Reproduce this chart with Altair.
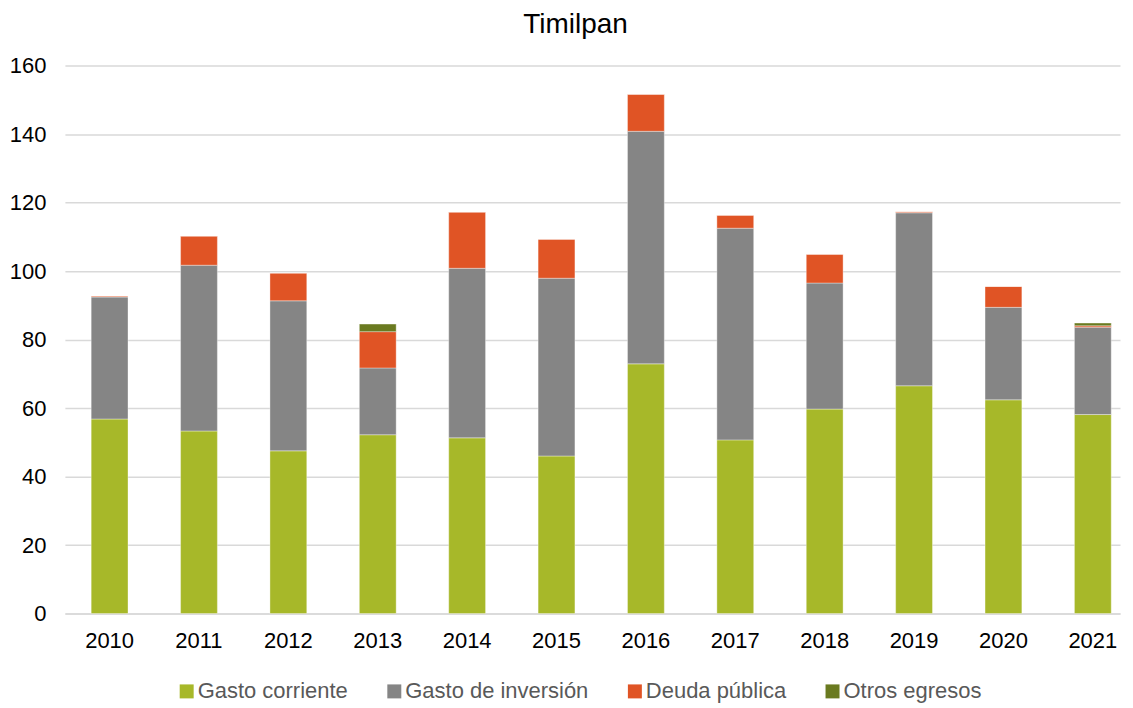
import altair as alt
import pandas as pd

years = ["2010", "2011", "2012", "2013", "2014", "2015", "2016", "2017", "2018", "2019", "2020", "2021"]
series = ["Gasto corriente", "Gasto de inversión", "Deuda pública", "Otros egresos"]
colors = ["#A7B829", "#858585", "#E05425", "#6A7A20"]

gasto_corriente = [56.8, 53.3, 47.5, 52.2, 51.3, 46.0, 72.9, 50.7, 59.7, 66.5, 62.4, 58.1]
gasto_inversion = [35.6, 48.4, 43.8, 19.5, 49.5, 51.9, 67.9, 61.8, 36.8, 50.5, 27.0, 25.5]
deuda_publica = [0.3, 8.5, 8.1, 10.6, 16.4, 11.4, 10.8, 3.8, 8.4, 0.3, 6.1, 0.4]
otros_egresos = [0.0, 0.0, 0.0, 2.2, 0.0, 0.0, 0.0, 0.0, 0.0, 0.0, 0.0, 0.8]

values = [gasto_corriente, gasto_inversion, deuda_publica, otros_egresos]
rows = []
for si, (name, vals) in enumerate(zip(series, values)):
    for y, v in zip(years, vals):
        rows.append({"year": y, "serie": name, "valor": v, "orden": si})
df = pd.DataFrame(rows)

FONT = "Liberation Sans"

chart = alt.Chart(df).mark_bar(stroke="#ffffff", strokeWidth=0.6, strokeOpacity=0.6).encode(
    x=alt.X("year:N", sort=years, title=None,
            scale=alt.Scale(paddingInner=0.588, paddingOuter=0.196, align=0.75),
            axis=alt.Axis(labelAngle=0, labelFontSize=22, labelColor="#000000", labelFont=FONT,
                          ticks=False, domainColor="#d9d9d9", domainWidth=1.5, labelPadding=17)),
    y=alt.Y("valor:Q", stack="zero", title=None,
            scale=alt.Scale(domain=[0, 160], nice=False),
            axis=alt.Axis(values=[0, 20, 40, 60, 80, 100, 120, 140, 160], labelFontSize=22,
                          labelColor="#000000", labelFont=FONT, ticks=False, domain=False,
                          gridColor="#d9d9d9", gridWidth=1.5, labelPadding=19)),
    color=alt.Color("serie:N", sort=series,
                    scale=alt.Scale(domain=series, range=colors),
                    legend=alt.Legend(title=None, orient="none", direction="horizontal",
                                      legendX=111, legendY=616, symbolType="square",
                                      symbolSize=196, symbolStrokeWidth=0, labelFontSize=22,
                                      labelFont=FONT, labelColor="#595959", columnPadding=35,
                                      labelOffset=0, symbolOpacity=1, labelLimit=0)),
    order=alt.Order("orden:Q", sort="ascending"),
).properties(
    width=1057,
    height=549,
    autosize=alt.AutoSizeParams(type="none"),
    padding={"left": 57, "top": 57, "right": 5, "bottom": 92},
    title=alt.TitleParams("Timilpan", fontSize=28, font=FONT, fontWeight="normal",
                          color="#000000", anchor="middle", dx=-17, offset=16),
).configure_view(stroke=None)

chart.save("out.html", embed_options={"renderer": "svg", "actions": False})
